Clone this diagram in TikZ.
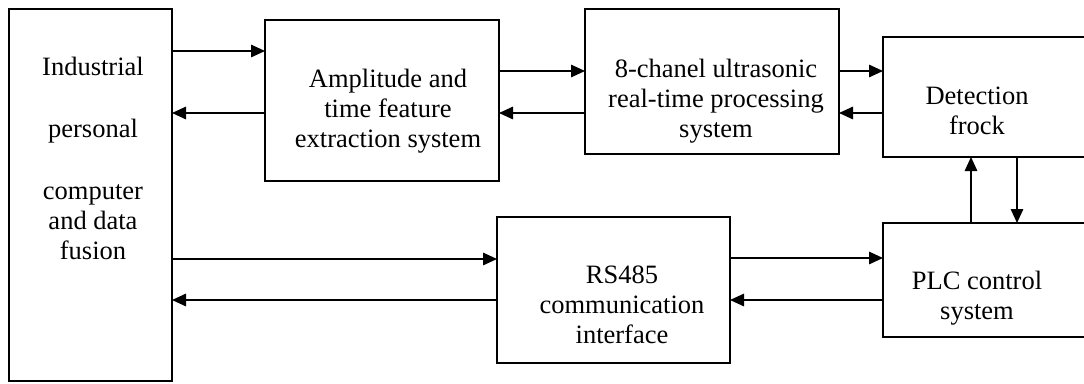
\documentclass[tikz,border=0pt]{standalone}
\usepackage{fontspec}
\setmainfont{Liberation Serif}
\usetikzlibrary{arrows.meta}
\tikzset{
  blk/.style={draw, line width=1.8pt, inner sep=0pt, outer sep=0pt},
  arr/.style={line width=1.5pt, -{Triangle[length=14pt,width=12.5pt]}},
  lbl/.style={anchor=base, inner sep=0pt, font=\fontsize{26.5}{30}\selectfont}
}
\newcommand{\lns}[1]{\begin{tabular}[t]{@{}c@{}}#1\end{tabular}}
\begin{document}
\begin{tikzpicture}[x=1pt,y=-1pt]
\useasboundingbox (0,0) rectangle (1084,383);
\clip (0,0) rectangle (1084,383);
% boxes
\node[blk, minimum width=163pt, minimum height=372pt] (ipc) at (90.5,195) {};
\node[blk, minimum width=234pt, minimum height=161pt] (amp) at (382,100.5) {};
\node[blk, minimum width=254pt, minimum height=145pt] (ch8) at (712,81.5) {};
\node[blk, minimum width=227pt, minimum height=120pt] (det) at (996.5,97) {};
\node[blk, minimum width=233pt, minimum height=146pt] (rs) at (613.5,290) {};
\node[blk, minimum width=227pt, minimum height=114pt] (plc) at (996.5,280) {};
% texts
\node[lbl] (tipc) at (93,75) {\lns{Industrial\\[32pt]personal\\[32pt]computer\\and data\\fusion}};
\node[lbl] (tamp) at (388,87) {\lns{Amplitude and\\time feature\\extraction system}};
\node[lbl] (tch8) at (716,77) {\lns{8-chanel ultrasonic\\real-time processing\\system}};
\node[lbl] (tdet) at (977,104) {\lns{Detection\\frock}};
\node[lbl] (trs) at (622,283) {\lns{RS485\\communication\\interface}};
\node[lbl] (tplc) at (977,289) {\lns{PLC control\\system}};
% connectors
\draw[arr] (ipc.east |- 0,51) -- (amp.west |- 0,51);
\draw[arr] (amp.west |- 0,113) -- (ipc.east |- 0,113);
\draw[arr] (amp.east |- 0,71) -- (ch8.west |- 0,71);
\draw[arr] (ch8.west |- 0,113) -- (amp.east |- 0,113);
\draw[arr] (ch8.east |- 0,71) -- (det.west |- 0,71);
\draw[arr] (det.west |- 0,113) -- (ch8.east |- 0,113);
\draw[arr] (plc.north -| 971,0) -- (det.south -| 971,0);
\draw[arr] (det.south -| 1017,0) -- (plc.north -| 1017,0);
\draw[arr] (ipc.east |- 0,259) -- (rs.west |- 0,259);
\draw[arr] (rs.west |- 0,300) -- (ipc.east |- 0,300);
\draw[arr] (rs.east |- 0,258) -- (plc.west |- 0,258);
\draw[arr] (plc.west |- 0,300) -- (rs.east |- 0,300);
\end{tikzpicture}
\end{document}
